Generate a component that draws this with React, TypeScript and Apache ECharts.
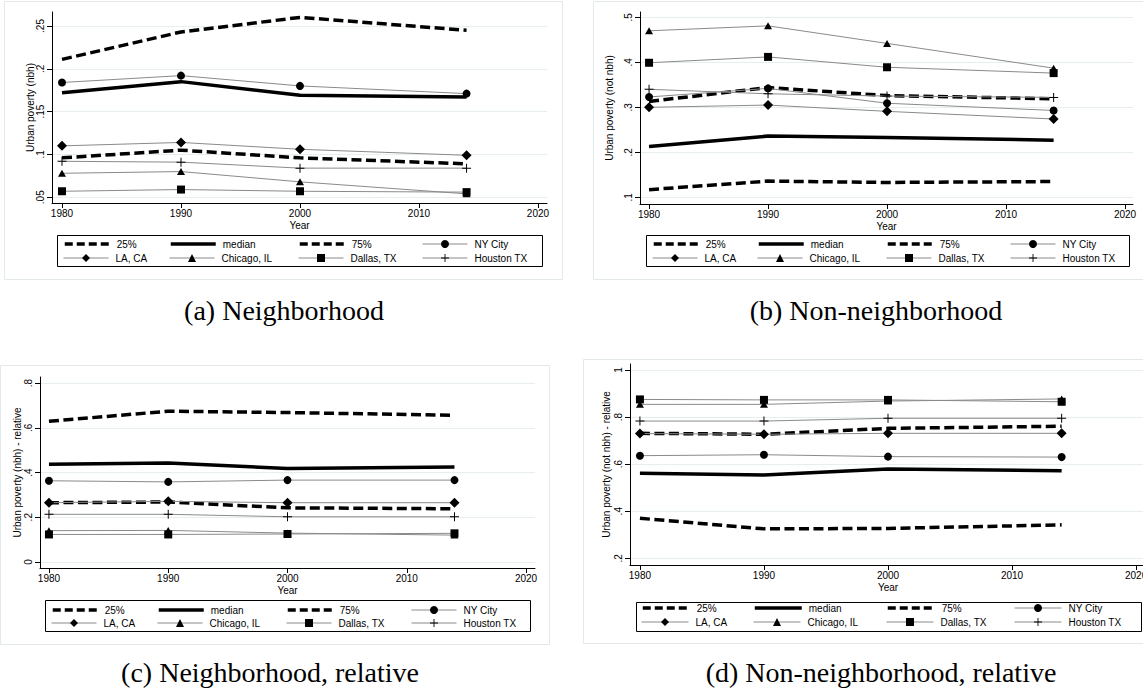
import React, { useEffect, useRef } from "react";
import * as echarts from "echarts";

// ---------- data ----------
const years = [1980, 1990, 2000, 2014];
const xTicks = [1980, 1990, 2000, 2010, 2020];
const seriesNames = ["25%", "median", "75%", "NY City", "LA, CA", "Chicago, IL", "Dallas, TX", "Houston TX"];

// (a) Neighborhood
const nbhP25 = [0.096, 0.105, 0.096, 0.089];
const nbhMedian = [0.172, 0.185, 0.169, 0.167];
const nbhP75 = [0.211, 0.243, 0.26, 0.245];
const nbhNY = [0.184, 0.192, 0.18, 0.171];
const nbhLA = [0.11, 0.114, 0.106, 0.099];
const nbhChicago = [0.078, 0.08, 0.068, 0.054];
const nbhDallas = [0.057, 0.059, 0.057, 0.056];
const nbhHouston = [0.092, 0.091, 0.084, 0.084];

// (b) Non-neighborhood
const notP25 = [0.117, 0.136, 0.133, 0.135];
const notMedian = [0.213, 0.236, 0.233, 0.227];
const notP75 = [0.313, 0.344, 0.326, 0.319];
const notNY = [0.323, 0.342, 0.309, 0.293];
const notLA = [0.3, 0.305, 0.291, 0.274];
const notChicago = [0.47, 0.481, 0.442, 0.387];
const notDallas = [0.399, 0.412, 0.389, 0.376];
const notHouston = [0.34, 0.33, 0.325, 0.322];

// (c) Neighborhood, relative
const relNbhP25 = [0.265, 0.268, 0.242, 0.238];
const relNbhMedian = [0.437, 0.443, 0.418, 0.425];
const relNbhP75 = [0.629, 0.674, 0.668, 0.656];
const relNbhNY = [0.363, 0.358, 0.366, 0.366];
const relNbhLA = [0.265, 0.271, 0.265, 0.265];
const relNbhChicago = [0.14, 0.141, 0.129, 0.12];
const relNbhDallas = [0.123, 0.123, 0.125, 0.128];
const relNbhHouston = [0.213, 0.213, 0.202, 0.202];

// (d) Non-neighborhood, relative
const relNotP25 = [0.37, 0.325, 0.327, 0.342];
const relNotMedian = [0.561, 0.554, 0.579, 0.572];
const relNotP75 = [0.731, 0.727, 0.752, 0.761];
const relNotNY = [0.636, 0.64, 0.632, 0.63];
const relNotLA = [0.73, 0.727, 0.731, 0.731];
const relNotChicago = [0.854, 0.854, 0.868, 0.877];
const relNotDallas = [0.875, 0.873, 0.873, 0.865];
const relNotHouston = [0.783, 0.783, 0.795, 0.795];

const yTicksA = [0.05, 0.1, 0.15, 0.2, 0.25];
const yTicksB = [0.1, 0.2, 0.3, 0.4, 0.5];
const yTicksC = [0, 0.2, 0.4, 0.6, 0.8];
const yTicksD = [0.2, 0.4, 0.6, 0.8, 1];

const yTitles = [
  "Urban poverty (nbh)",
  "Urban poverty (not nbh)",
  "Urban poverty (nbh) - relative",
  "Urban poverty (not nbh) - relative",
];
const captions = [
  "(a) Neighborhood",
  "(b) Non-neighborhood",
  "(c) Neighborhood, relative",
  "(d) Non-neighborhood, relative",
];
const xTitle = "Year";

const panelValues = [
  [nbhP25, nbhMedian, nbhP75, nbhNY, nbhLA, nbhChicago, nbhDallas, nbhHouston],
  [notP25, notMedian, notP75, notNY, notLA, notChicago, notDallas, notHouston],
  [relNbhP25, relNbhMedian, relNbhP75, relNbhNY, relNbhLA, relNbhChicago, relNbhDallas, relNbhHouston],
  [relNotP25, relNotMedian, relNotP75, relNotNY, relNotLA, relNotChicago, relNotDallas, relNotHouston],
];
const panelYTicks = [yTicksA, yTicksB, yTicksC, yTicksD];

// ---------- layout / style ----------
const layouts = [
  {
    grid: { left: 52, top: 12, width: 495, height: 191 },
    x: [1979.16, 2020.76], y: [0.0433, 0.2663], nameGap: 17,
    box: { x: 57, y: 235, w: 485, h: 31 }, rows: [244, 258], cols: [6, 112, 241, 365], keyW: 45,
    cap: [284, 310], frame: { x: 4, y: 1, w: 558, h: 278 },
  },
  {
    grid: { left: 640, top: 12, width: 493, height: 192 },
    x: [1979.24, 2020.67], y: [0.0851, 0.5118], nameGap: 26,
    box: { x: 646, y: 235, w: 483, h: 31 }, rows: [244, 258], cols: [6, 111, 240, 364], keyW: 45,
    cap: [876, 310], frame: { x: 593, y: 1, w: 570, h: 278 },
  },
  {
    grid: { left: 40, top: 377, width: 495, height: 191 },
    x: [1979.25, 2020.75], y: [-0.027, 0.827], nameGap: 18,
    box: { x: 45, y: 600, w: 485, h: 31 }, rows: [610, 623], cols: [6, 112, 241, 366], keyW: 45,
    cap: [270, 672], frame: { x: 0, y: 365, w: 549, h: 279 },
  },
  {
    grid: { left: 630, top: 364, width: 516, height: 201 },
    x: [1979.2, 2020.8], y: [0.1715, 1.0255], nameGap: 19,
    box: { x: 636, y: 602, w: 505, h: 29 }, rows: [608, 622], cols: [5, 117, 250, 378], keyW: 47,
    cap: [881, 672], frame: { x: 583, y: 359, w: 570, h: 284 },
  },
];

const FONT = "Liberation Sans";
const CITY_LINE = "#8a8a8a";
const GRID_LINE = "#e6eef0";
const FRAME = "#e3e9eb";
const DASH = [10, 4.5];
const LEGEND_DASH = [8, 4];
const PLUS = "path://M4.45,0H5.55V4.45H10V5.55H5.55V10H4.45V5.55H0V4.45H4.45Z";
const markers: any[] = [
  null, null, null,
  { symbol: "circle", size: 8 },
  { symbol: "diamond", size: 10 },
  { symbol: "triangle", size: [8, 7] },
  { symbol: "rect", size: 8 },
  { symbol: PLUS, size: 9 },
];

const fmtY = (v: number) => {
  let s = String(+v.toFixed(2));
  if (s.startsWith("0.")) s = s.slice(1);
  return s;
};

function buildOption() {
  const grid: any[] = [];
  const xAxis: any[] = [];
  const yAxis: any[] = [];
  const series: any[] = [];
  const legend: any[] = [];
  const graphic: any[] = [];

  layouts.forEach((L, p) => {
    grid.push({ ...L.grid, containLabel: false, outerBoundsMode: "none" });
    xAxis.push({
      type: "value", gridIndex: p, min: L.x[0], max: L.x[1],
      name: xTitle, nameLocation: "middle", nameGap: 17, nameMoveOverlap: false,
      nameTextStyle: { fontFamily: FONT, fontSize: 10, color: "#000" },
      axisLine: { show: true, onZero: false, lineStyle: { color: "#000", width: 1 } },
      axisTick: { show: true, length: 5, customValues: xTicks, lineStyle: { color: "#000" } },
      axisLabel: { customValues: xTicks, fontFamily: FONT, fontSize: 10, color: "#000", margin: 5, formatter: (v: number) => String(v) },
      splitLine: { show: false },
    });
    yAxis.push({
      type: "value", gridIndex: p, min: L.y[0], max: L.y[1],
      name: yTitles[p], nameLocation: "middle", nameGap: L.nameGap, nameMoveOverlap: false,
      nameTextStyle: { fontFamily: FONT, fontSize: 10, color: "#000" },
      axisLine: { show: true, onZero: false, lineStyle: { color: "#000", width: 1 } },
      axisTick: { show: true, length: 5, customValues: panelYTicks[p], lineStyle: { color: "#000" } },
      axisLabel: { customValues: panelYTicks[p], rotate: 90, fontFamily: FONT, fontSize: 10, color: "#000", margin: 7, formatter: fmtY },
      splitLine: { show: true, lineStyle: { color: GRID_LINE, width: 1 } },
    });

    panelValues[p].forEach((vals, k) => {
      const m = markers[k];
      const isStat = k < 3;
      series.push({
        type: "line",
        name: seriesNames[k],
        xAxisIndex: p, yAxisIndex: p,
        data: years.map((yr, i) => [yr, vals[i]]),
        symbol: m ? m.symbol : "circle",
        symbolSize: m ? m.size : 0,
        showSymbol: !!m,
        itemStyle: { color: "#000", borderWidth: 0 },
        lineStyle: isStat
          ? { color: "#000", width: 3.5, type: k === 1 ? "solid" : DASH, cap: "butt" }
          : { color: CITY_LINE, width: 1 },
        z: isStat ? 2 : 3,
        silent: true,
      });
    });

    // legend, one per key so the columns line up
    seriesNames.forEach((nm, k) => {
      const r = Math.floor(k / 4);
      const c = k % 4;
      const isStat = k < 3;
      legend.push({
        data: [isStat ? { name: nm, itemStyle: { opacity: 0 } } : { name: nm }],
        left: L.box.x + L.cols[c], top: L.rows[r] - 5,
        orient: "horizontal", padding: 0, itemGap: 0,
        itemWidth: L.keyW, itemHeight: 10, selectedMode: false,
        lineStyle: isStat
          ? { width: 3.5, type: k === 1 ? "solid" : LEGEND_DASH, color: "#000", cap: "butt" }
          : { width: 1 },
        textStyle: { fontFamily: FONT, fontSize: 10, color: "#000", padding: [0, 0, 0, 2] },
      });
    });

    graphic.push({
      type: "rect", z: 0, silent: true,
      shape: { x: L.frame.x + 0.5, y: L.frame.y + 0.5, width: L.frame.w, height: L.frame.h },
      style: { fill: "none", stroke: FRAME, lineWidth: 1 },
    });
    graphic.push({
      type: "rect", z: 1, silent: true,
      shape: { x: L.box.x + 0.5, y: L.box.y + 0.5, width: L.box.w, height: L.box.h },
      style: { fill: "#fff", stroke: "#000", lineWidth: 1 },
    });
    graphic.push({
      type: "text", z: 1, silent: true, x: L.cap[0], y: L.cap[1],
      style: { text: captions[p], fontFamily: "Liberation Serif", fontSize: 28, fill: "#000", align: "center", verticalAlign: "middle" },
    });
  });

  return { animation: false, backgroundColor: "#fff", grid, xAxis, yAxis, series, legend, graphic };
}

export default function App() {
  const ref = useRef<HTMLDivElement>(null);
  useEffect(() => {
    if (!ref.current) return;
    const chart = echarts.init(ref.current, undefined, { renderer: "svg" });
    chart.setOption(buildOption() as any);
    return () => chart.dispose();
  }, []);
  return (
    <div
      ref={ref}
      style={{ position: "fixed", left: 0, top: 0, width: 1143, height: 693, background: "#fff" }}
    />
  );
}
